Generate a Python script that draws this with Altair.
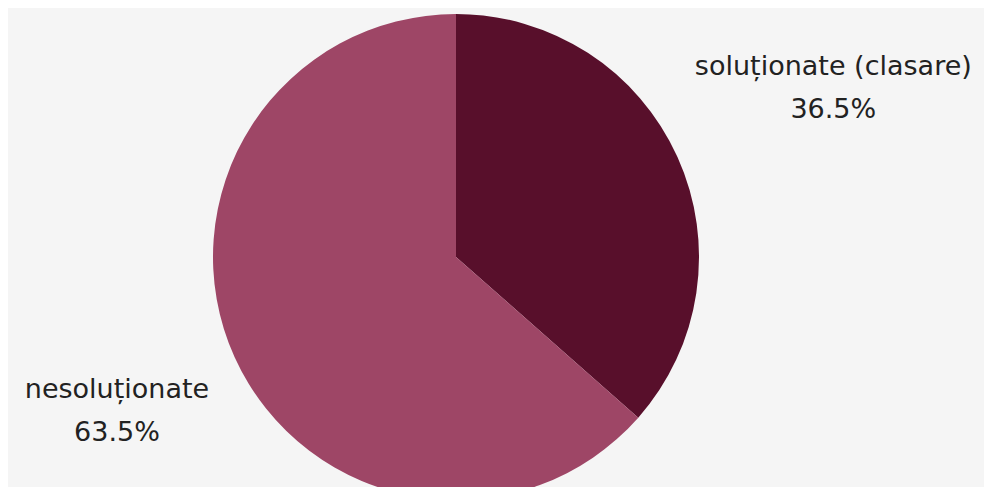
import altair as alt
import pandas as pd

categories = ["soluționate (clasare)", "nesoluționate"]
shares = [36.5, 63.5]
colors = ["#580f2b", "#9e4666"]

df = pd.DataFrame({"cat": categories, "pct": shares, "idx": list(range(len(categories)))})

base = alt.Chart(df).transform_calculate(
    label="datum.cat + '\\n' + format(datum.pct, '.1f') + '%'"
)

arc = base.mark_arc(outerRadius=243, stroke=None).encode(
    theta=alt.Theta("pct:Q", stack=True),
    color=alt.Color("cat:N", scale=alt.Scale(domain=categories, range=colors), legend=None),
    order=alt.Order("idx:Q"),
    x=alt.value(448),
    y=alt.value(249),
)

def label_layer(name, r):
    return base.mark_text(
        lineBreak="\n", font="DejaVu Sans", fontSize=27, color="#222222",
        align="center", baseline="middle", lineHeight=43, dy=-20,
    ).encode(
        theta=alt.Theta("pct:Q", stack=True),
        detail="cat:N",
        order=alt.Order("idx:Q"),
        radius=alt.value(r),
        text=alt.condition(alt.datum.cat == name, "label:N", alt.value("")),
        x=alt.value(448),
        y=alt.value(249),
    )

chart = alt.layer(
    arc,
    label_layer(categories[0], 414),
    label_layer(categories[1], 372),
).properties(
    width=976, height=479, autosize=alt.AutoSizeParams(type="none"), padding=0,
    background="#f5f5f5",
).configure_view(stroke=None)

chart.save("out.html", embed_options={"renderer": "svg", "actions": False})
